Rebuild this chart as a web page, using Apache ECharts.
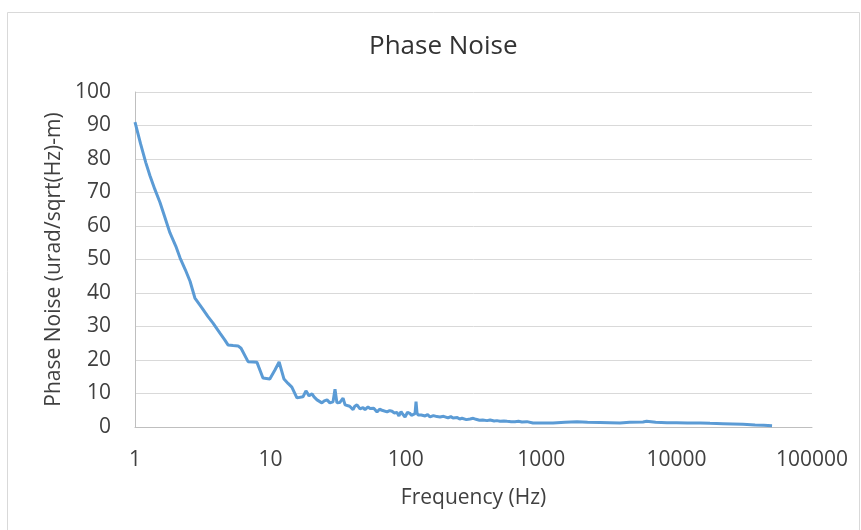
<!DOCTYPE html>
<html>
<head>
<meta charset="utf-8">
<script src="https://cdn.jsdelivr.net/npm/echarts@6/dist/echarts.min.js"></script>
<style>
  html, body { margin: 0; padding: 0; background: #ffffff; }
  #chart { width: 861px; height: 530px; }
</style>
</head>
<body>
<div id="chart"></div>
<script>
// Frequency (Hz) of each spectrum sample
const freqHz = [
  1, 1.1, 1.2, 1.29, 1.4, 1.53, 1.65, 1.81, 2.0, 2.15, 2.35, 2.55, 2.77, 3.0, 3.13, 3.45, 3.77,
  4.24, 4.6, 4.86, 5.3, 5.77, 6.07, 6.84, 7.5, 7.96, 8.81, 9.9, 10.8, 11.6, 11.97, 12.6, 13.5,
  14.4, 15.7, 17.4, 18.3, 19.3, 20.3, 21, 22.1, 24, 25, 26.2, 27.5, 29, 30, 31, 32.5, 34.4,
  35.6, 36.8, 38.5, 40.8, 42, 43.6, 45.9, 48.3, 50, 52.6, 54.5, 56.3, 58, 61.3, 64, 66.7, 69,
  72.7, 76, 79.1, 82, 86.1, 89, 92.2, 95, 98.7, 103, 107, 110, 113, 117, 119, 121, 123, 130,
  139, 145, 151, 160, 170, 179, 190, 205, 215, 223, 240, 250, 260, 280, 298, 315, 330, 350, 370,
  398, 420, 450, 470, 497, 530, 560, 600, 640, 680, 720, 785, 869, 1000, 1222, 1500, 1838, 2200,
  2717, 3200, 3819, 4500, 5649, 6000, 7000, 8494, 10000, 12000, 15000, 17660, 22000, 26000,
  30920, 38000, 44000, 50700
];

// Phase noise (urad/sqrt(Hz)-m) at each frequency
const noise = [
  91, 84.5, 79, 75, 71, 67, 63, 58, 54, 50.5, 47, 43.5, 38.5, 36.5, 35.5, 33, 31,
  28, 26, 24.5, 24.3, 24.2, 23.5, 19.5, 19.4, 19.3, 14.6, 14.3, 17, 19.4, 19.1, 14.3, 13,
  11.9, 8.7, 9, 10.8, 9.3, 9.9, 9, 8.1, 7.2, 7.8, 8.1, 7.2, 7.5, 11.3, 7.2, 7.3, 8.6,
  6.6, 6.3, 6.2, 5.2, 6.2, 6.6, 5.4, 5.8, 5.2, 6, 5.5, 5.4, 5.6, 4.5, 5.3, 5.0, 4.6,
  4.5, 4.9, 4.7, 4.2, 4.3, 3.3, 4.6, 3.8, 3.0, 4.4, 4.1, 3.5, 3.9, 4.0, 7.6, 4.2, 3.6, 3.6,
  3.3, 3.7, 3.0, 3.4, 3.1, 3.0, 3.2, 2.7, 3.1, 2.7, 2.8, 2.4, 2.6, 2.2, 2.4, 2.6, 2.3, 2.0, 2.1,
  1.9, 2.1, 1.8, 1.9, 1.7, 1.8, 1.7, 1.6, 1.6, 1.7, 1.5, 1.6, 1.2, 1.2, 1.2, 1.4, 1.6, 1.4,
  1.35, 1.3, 1.2, 1.4, 1.5, 1.7, 1.4, 1.3, 1.3, 1.2, 1.2, 1.1, 1.0, 0.9,
  0.8, 0.6, 0.5, 0.4
];

// Decade labels on the frequency axis and value ticks on the noise axis
const freqTicks = [1, 10, 100, 1000, 10000, 100000];
const noiseTicks = [0, 10, 20, 30, 40, 50, 60, 70, 80, 90, 100];

const seriesData = freqHz.map((f, i) => [f, noise[i]]);
const FONT = '"Open Sans", "Liberation Sans", sans-serif';

const chart = echarts.init(document.getElementById('chart'), null, { renderer: 'canvas' });
chart.setOption({
  backgroundColor: '#ffffff',
  animation: false,
  graphic: [{
    type: 'rect',
    left: 5, top: 10,
    shape: { width: 852, height: 540 },
    style: { fill: 'none', stroke: '#D9D9D9', lineWidth: 1 },
    silent: true
  }],
  title: {
    text: 'Phase Noise',
    left: 364,
    top: 29,
    textStyle: { fontFamily: FONT, fontSize: 26, fontWeight: 'normal', color: '#333333' }
  },
  grid: { left: 135, right: 49, top: 92, bottom: 103 },
  xAxis: {
    type: 'log',
    logBase: 10,
    min: freqTicks[0],
    max: freqTicks[freqTicks.length - 1],
    interval: 1,
    name: 'Frequency (Hz)',
    nameLocation: 'middle',
    nameGap: 61,
    nameTextStyle: { fontFamily: FONT, fontSize: 21, color: '#404040' },
    axisLine: { lineStyle: { color: '#BFBFBF', width: 1 } },
    axisTick: { show: false },
    splitLine: { show: false },
    axisLabel: {
      fontFamily: FONT, fontSize: 21, color: '#404040', margin: 23,
      formatter: v => String(Math.round(v))
    }
  },
  yAxis: {
    type: 'value',
    min: noiseTicks[0],
    max: noiseTicks[noiseTicks.length - 1],
    interval: 10,
    name: 'Phase Noise (urad/sqrt(Hz)-m)',
    nameLocation: 'middle',
    nameGap: 70,
    nameTextStyle: { fontFamily: FONT, fontSize: 21, color: '#404040' },
    axisLine: { show: true, lineStyle: { color: '#BFBFBF', width: 1 } },
    axisTick: { show: false },
    splitLine: { lineStyle: { color: '#D9D9D9', width: 1 } },
    axisLabel: { fontFamily: FONT, fontSize: 21, color: '#404040', margin: 24 }
  },
  series: [{
    type: 'line',
    data: seriesData,
    showSymbol: false,
    smooth: false,
    lineStyle: { color: '#5B9BD5', width: 3 },
    itemStyle: { color: '#5B9BD5' }
  }]
});
</script>
</body>
</html>
